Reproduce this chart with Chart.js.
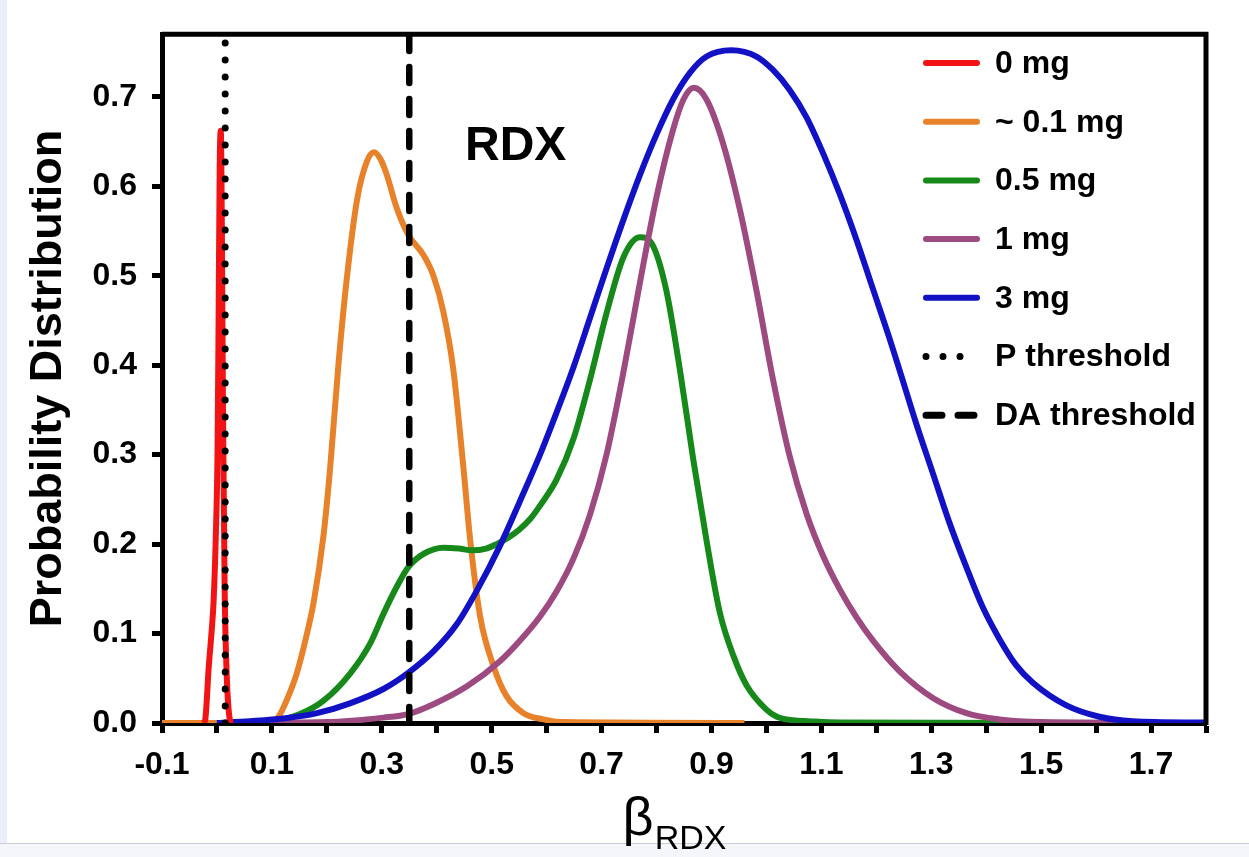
<!DOCTYPE html>
<html>
<head>
<meta charset="utf-8">
<title>RDX probability distribution</title>
<script src="https://cdn.jsdelivr.net/npm/chart.js@4.4.1/dist/chart.umd.min.js"></script>
<style>
  html, body { margin: 0; padding: 0; background: #fff; }
  body { width: 1249px; height: 857px; position: relative; overflow: hidden; }
  .edge-left { position: absolute; left: 0; top: 0; width: 7px; height: 857px; background: #eceff9; }
  .edge-bottom { position: absolute; left: 0; top: 843px; width: 1249px; height: 14px; background: #f4f6fa; border-top: 1px solid #c5ccd8; }
  canvas { position: absolute; left: 0; top: 0; }
</style>
</head>
<body>
<div class="edge-left"></div>
<div class="edge-bottom"></div>
<canvas id="rdxChart" width="1249" height="857"></canvas>
<script>
// beta_RDX values and probability densities

const red_x = [-0.024, -0.021, -0.015, -0.010, -0.006, -0.002, 0.001, 0.003, 0.005, 0.007, 0.009, 0.011, 0.014, 0.018, 0.022, 0.025];
const red_y = [0, 0.005, 0.062, 0.100, 0.137, 0.211, 0.30, 0.45, 0.62, 0.662, 0.55, 0.35, 0.15, 0.05, 0.01, 0];

const orange_x = [-0.1, 0.1, 0.115, 0.13, 0.145, 0.16, 0.176, 0.194, 0.206, 0.221, 0.236, 0.255, 0.273, 0.286, 0.298, 0.309, 0.327, 0.348, 0.376, 0.394, 0.412, 0.430, 0.448, 0.461, 0.479, 0.503, 0.527, 0.558, 0.594, 0.63, 0.96];
const orange_y = [0, 0, 0.01, 0.03, 0.055, 0.09, 0.135, 0.21, 0.285, 0.40, 0.495, 0.585, 0.628, 0.638, 0.630, 0.613, 0.576, 0.546, 0.523, 0.500, 0.460, 0.396, 0.289, 0.204, 0.119, 0.064, 0.030, 0.011, 0.004, 0.001, 0];

const green_x = [0.0, 0.10, 0.151, 0.194, 0.242, 0.279, 0.303, 0.327, 0.348, 0.376, 0.412, 0.440, 0.464, 0.490, 0.509, 0.53, 0.55, 0.57, 0.588, 0.618, 0.649, 0.679, 0.709, 0.740, 0.770, 0.794, 0.818, 0.843, 0.867, 0.891, 0.915, 0.940, 0.964, 1.000, 1.019, 1.049, 1.076, 1.133, 1.5];
const green_y = [0, 0.002, 0.010, 0.025, 0.055, 0.089, 0.122, 0.152, 0.174, 0.189, 0.196, 0.195, 0.193, 0.195, 0.200, 0.207, 0.216, 0.228, 0.243, 0.272, 0.318, 0.384, 0.458, 0.521, 0.543, 0.533, 0.483, 0.393, 0.294, 0.204, 0.124, 0.075, 0.042, 0.015, 0.007, 0.003, 0.002, 0.0005, 0];

const purple_x = [0.0, 0.2, 0.303, 0.348, 0.394, 0.455, 0.515, 0.55, 0.588, 0.618, 0.649, 0.679, 0.709, 0.740, 0.770, 0.800, 0.830, 0.849, 0.868, 0.891, 0.921, 0.952, 0.982, 1.012, 1.042, 1.073, 1.103, 1.133, 1.164, 1.194, 1.242, 1.303, 1.364, 1.424, 1.5, 1.8];
const purple_y = [0, 0.001, 0.006, 0.010, 0.021, 0.041, 0.069, 0.091, 0.119, 0.147, 0.184, 0.233, 0.300, 0.393, 0.493, 0.588, 0.663, 0.697, 0.710, 0.697, 0.648, 0.573, 0.483, 0.384, 0.299, 0.234, 0.187, 0.150, 0.118, 0.092, 0.058, 0.028, 0.011, 0.004, 0.001, 0];

const blue_x = [0.0, 0.06, 0.121, 0.182, 0.242, 0.303, 0.348, 0.394, 0.436, 0.473, 0.515, 0.55, 0.588, 0.618, 0.649, 0.679, 0.709, 0.740, 0.770, 0.800, 0.830, 0.861, 0.891, 0.936, 0.982, 1.012, 1.042, 1.073, 1.103, 1.133, 1.164, 1.194, 1.224, 1.242, 1.273, 1.303, 1.333, 1.364, 1.394, 1.424, 1.454, 1.485, 1.545, 1.606, 1.667, 1.8];
const blue_y = [0, 0.002, 0.005, 0.011, 0.022, 0.038, 0.056, 0.080, 0.110, 0.148, 0.198, 0.246, 0.300, 0.347, 0.398, 0.453, 0.508, 0.563, 0.613, 0.658, 0.697, 0.727, 0.745, 0.752, 0.745, 0.730, 0.708, 0.677, 0.637, 0.592, 0.540, 0.485, 0.430, 0.395, 0.334, 0.279, 0.224, 0.174, 0.129, 0.094, 0.065, 0.045, 0.020, 0.007, 0.002, 0.0005];

// threshold positions on the beta axis
const pThreshold = 0.015;
const daThreshold = 0.35;

const seriesLabels = ["0 mg", "~ 0.1 mg", "0.5 mg", "1 mg", "3 mg", "P threshold", "DA threshold"];
const xTicksRange = [-0.1, 1.8];
const yTicksRange = [0, 0.77];

const FONT = "'Liberation Sans', Arial, Helvetica, sans-serif";

function toPoints(xs, ys) {
  return xs.map((x, i) => ({ x: x, y: ys[i] }));
}

function curve(label, xs, ys, color, order) {
  return {
    label: label,
    data: toPoints(xs, ys),
    borderColor: color,
    backgroundColor: color,
    borderWidth: 6,
    pointRadius: 0,
    cubicInterpolationMode: "monotone",
    fill: false,
    order: order,
  };
}

function threshold(label, xValue, dash, width) {
  return {
    label: label,
    data: toPoints([xValue, xValue], [0, yTicksRange[1]]),
    borderColor: "#000",
    borderWidth: width,
    borderDash: dash,
    borderCapStyle: "round",
    pointRadius: 0,
    fill: false,
    order: 0,
  };
}

// top + right border of the box
const framePlugin = {
  id: "frame",
  afterDatasetsDraw(chart) {
    const { ctx, chartArea: a } = chart;
    ctx.save();
    ctx.strokeStyle = "#000";
    ctx.lineWidth = 5;
    ctx.beginPath();
    ctx.moveTo(a.left, a.top);
    ctx.lineTo(a.right, a.top);
    ctx.lineTo(a.right, a.bottom + 2);
    ctx.stroke();
    ctx.restore();
  },
};

// legend inside the plot, top right
const legendPlugin = {
  id: "insideLegend",
  afterDraw(chart) {
    const ctx = chart.ctx;
    const lineX0 = 923, lineX1 = 980, textX = 995;
    const rowY = 63, rowStep = 58.7;
    ctx.save();
    ctx.font = "bold 32px " + FONT;
    ctx.textBaseline = "middle";
    ctx.fillStyle = "#000";
    chart.data.datasets.forEach((ds, i) => {
      const y = rowY + i * rowStep;
      ctx.strokeStyle = ds.borderColor;
      ctx.lineWidth = ds.borderDash ? 7 : 6;
      ctx.lineCap = "round";
      ctx.setLineDash(ds.borderDash || []);
      ctx.beginPath();
      ctx.moveTo(lineX0 + 3, y);
      ctx.lineTo(lineX1 - 3, y);
      ctx.stroke();
      ctx.setLineDash([]);
      ctx.fillText(ds.label, textX, y + 1);
    });
    ctx.restore();
  },
};

// "RDX" tag and the beta_RDX axis title
const labelsPlugin = {
  id: "labels",
  afterDraw(chart) {
    const ctx = chart.ctx;
    const a = chart.chartArea;
    ctx.save();
    ctx.fillStyle = "#000";
    ctx.textBaseline = "alphabetic";
    ctx.font = "bold 48px " + FONT;
    ctx.fillText("RDX", 465, 160);

    ctx.font = "54px " + FONT;
    const betaW = ctx.measureText("\u03b2").width;
    ctx.font = "34px " + FONT;
    const subW = ctx.measureText("RDX").width;
    const startX = (a.left + a.right) / 2 - (betaW + subW) / 2 - 10;
    ctx.font = "54px " + FONT;
    ctx.fillText("\u03b2", startX, 835);
    ctx.font = "34px " + FONT;
    ctx.fillText("RDX", startX + betaW + 1, 849);
    ctx.restore();
  },
};

const ctx = document.getElementById("rdxChart");

new Chart(ctx.getContext("2d"), {
  type: "line",
  data: {
    datasets: [
      curve(seriesLabels[0], red_x, red_y, "#f21414", 1),
      curve(seriesLabels[1], orange_x, orange_y, "#e8822a", 5),
      curve(seriesLabels[2], green_x, green_y, "#16891a", 4),
      curve(seriesLabels[3], purple_x, purple_y, "#9c4a80", 3),
      curve(seriesLabels[4], blue_x, blue_y, "#1212c4", 2),
      threshold(seriesLabels[5], pThreshold, [0, 17], 7),
      threshold(seriesLabels[6], daThreshold, [16, 16], 6.5),
    ],
  },
  options: {
    responsive: false,
    animation: false,
    layout: { padding: { top: 32, right: 43, bottom: 0, left: 0 } },
    plugins: {
      legend: { display: false },
      tooltip: { enabled: false },
    },
    scales: {
      x: {
        type: "linear",
        min: xTicksRange[0],
        max: xTicksRange[1],
        ticks: {
          stepSize: 0.1,
          autoSkip: false,
          maxRotation: 0,
          includeBounds: false,
          padding: 13,
          color: "#000",
          font: { family: FONT, size: 32, weight: "bold" },
          callback: function (value) {
            const k = Math.round(value * 10);
            return k % 2 !== 0 ? value.toFixed(1) : "";
          },
        },
        grid: {
          drawOnChartArea: false,
          drawTicks: true,
          tickLength: 10,
          tickWidth: 5,
          tickColor: "#000",
        },
        border: { display: true, color: "#000", width: 5 },
        afterFit: function (scale) {
          scale.height = 134;
        },
      },
      y: {
        type: "linear",
        min: yTicksRange[0],
        max: yTicksRange[1],
        ticks: {
          stepSize: 0.1,
          includeBounds: false,
          padding: 15,
          color: "#000",
          font: { family: FONT, size: 32, weight: "bold" },
          callback: function (value) {
            return value.toFixed(1);
          },
        },
        grid: {
          drawOnChartArea: false,
          drawTicks: true,
          tickLength: 10,
          tickWidth: 5,
          tickColor: "#000",
        },
        border: { display: true, color: "#000", width: 5 },
        title: {
          display: true,
          text: "Probability Distribution",
          color: "#000",
          font: { family: FONT, size: 45, weight: "bold" },
          padding: { top: 22, bottom: 0 },
        },
        afterFit: function (scale) {
          scale.width = 162;
        },
      },
    },
  },
  plugins: [framePlugin, legendPlugin, labelsPlugin],
});
</script>
</body>
</html>
